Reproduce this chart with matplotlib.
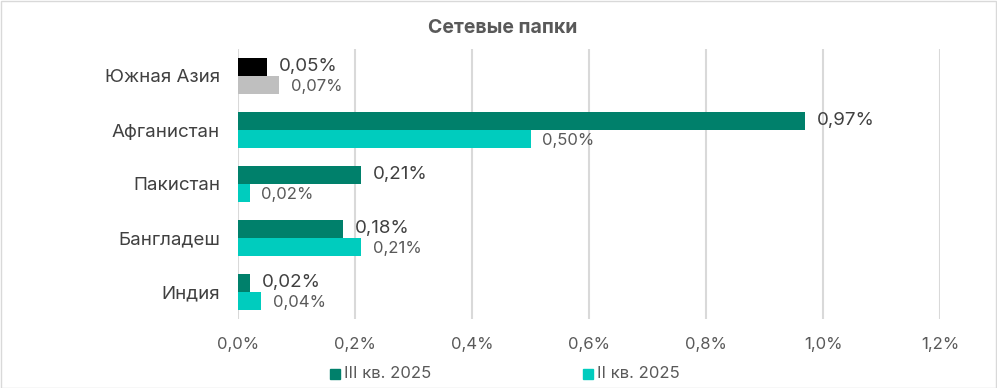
import matplotlib.pyplot as plt
import numpy as np
from matplotlib.patches import Rectangle

categories = ["Южная Азия", "Афганистан", "Пакистан", "Бангладеш", "Индия"]
q3_values = [0.05, 0.97, 0.21, 0.18, 0.02]   # III кв. 2025
q2_values = [0.07, 0.50, 0.02, 0.21, 0.04]   # II кв. 2025
q3_colors = ["#000000", "#00806B", "#00806B", "#00806B", "#00806B"]
q2_colors = ["#BFBFBF", "#00CCBE", "#00CCBE", "#00CCBE", "#00CCBE"]
xticks = [0.0, 0.2, 0.4, 0.6, 0.8, 1.0, 1.2]

plt.rcParams["font.family"] = ["Inter", "DejaVu Sans"]

W, H = 997, 388
fig = plt.figure(figsize=(W / 100, H / 100), dpi=100)
ax = fig.add_axes([238 / W, (H - 319) / H, (940 - 238) / W, (319 - 49) / H])

n = len(categories)
y = np.arange(n)
h = 18 / 54
ax.barh(y - h / 2, q3_values, height=h, color=q3_colors, zorder=2)
ax.barh(y + h / 2, q2_values, height=h, color=q2_colors, zorder=2)

def fmt(v):
    return f"{v:.2f}%".replace(".", ",")

for i in range(n):
    ax.text(q3_values[i] + 0.02, y[i] - h / 2, fmt(q3_values[i]), va="center",
            ha="left", fontsize=13.5, color="#404040")
    ax.text(q2_values[i] + 0.02, y[i] + h / 2 + 0.03, fmt(q2_values[i]), va="center",
            ha="left", fontsize=12, color="#595959")

ax.set_ylim(n - 0.5, -0.5)
ax.set_xlim(0, 1.2)
ax.set_yticks(y)
ax.set_yticklabels(categories, fontsize=13.5, color="#404040")
ax.set_xticks(xticks)
ax.set_xticklabels([f"{t:.1f}%".replace(".", ",") for t in xticks],
                   fontsize=12, color="#595959")
ax.tick_params(length=0)
ax.tick_params(axis="y", pad=13)
ax.tick_params(axis="x", pad=13)
ax.grid(axis="x", color="#D9D9D9", linewidth=1.5, zorder=0)
for s in ax.spines.values():
    s.set_visible(False)

fig.text(503 / W, 1 - 28 / H, "Сетевые папки", ha="center", va="center",
         fontsize=14, fontweight="bold", color="#595959")

# legend
for x0, label, c in [(330, "III кв. 2025", "#00806B"), (583, "II кв. 2025", "#00CCBE")]:
    fig.patches.append(Rectangle((x0 / W, 1 - 379 / H), 10 / W, 10 / H,
                                 transform=fig.transFigure, color=c))
    fig.text((x0 + 14) / W, 1 - 374 / H, label, ha="left", va="center",
             fontsize=12, color="#595959")

fig.patches.append(Rectangle((0.5 / W, 0.5 / H), 1 - 1.5 / W, 1 - 1.5 / H,
                             transform=fig.transFigure, fill=False,
                             edgecolor="#D9D9D9", linewidth=1))

fig.savefig("out.png", dpi=100)
